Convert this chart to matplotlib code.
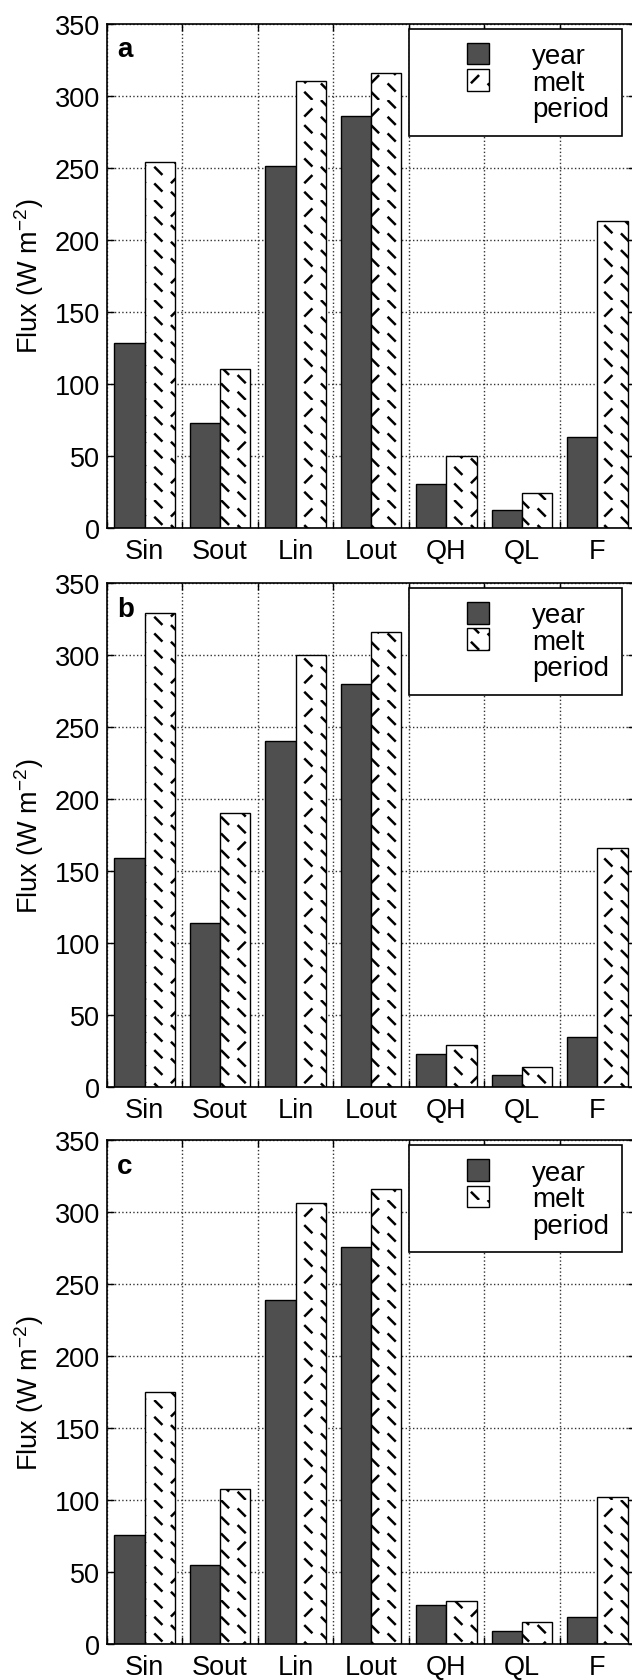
import warnings
import numpy as np
import matplotlib
matplotlib.use("Agg")
import matplotlib.pyplot as plt
from matplotlib import hatch as mhatch
from matplotlib.path import Path
from matplotlib.patches import Patch, Rectangle
from matplotlib.legend_handler import HandlerPatch

warnings.filterwarnings("ignore")

categories = ["Sin", "Sout", "Lin", "Lout", "QH", "QL", "F"]
panel_labels = ["a", "b", "c"]

year_a = [128, 73, 251, 286, 30, 12, 63]
melt_a = [254, 110, 310, 316, 50, 24, 213]
year_b = [159, 114, 240, 280, 23, 8, 35]
melt_b = [329, 190, 300, 316, 29, 14, 166]
year_c = [76, 55, 239, 276, 27, 9, 19]
melt_c = [175, 108, 306, 316, 30, 15, 102]

year_series = [year_a, year_b, year_c]
melt_series = [melt_a, melt_b, melt_c]
yticks = [0, 50, 100, 150, 200, 250, 300, 350]

YEAR_COLOR = "#4f4f4f"

plt.rcParams["font.family"] = ["Liberation Sans", "DejaVu Sans"]
plt.rcParams["mathtext.fontset"] = "custom"
plt.rcParams["mathtext.rm"] = "Liberation Sans"
plt.rcParams["hatch.linewidth"] = 1.8


# short diagonal dashes, mostly "\" with some "/" mixed in
class DashHatch(mhatch.HatchPatternBase):
    cell = [(0.25, 0.125, -1), (0.75, 0.375, -1), (0.25, 0.625, 1), (0.75, 0.875, -1)]
    half = 0.032

    def __init__(self, hatch, density):
        self.n = 3 if "k" in hatch else 0
        self.num_vertices = self.n * self.n * len(self.cell) * 2

    def set_vertices_and_codes(self, vertices, codes):
        size = 1.0 / self.n
        d = self.half
        k = 0
        for i in range(self.n):
            for j in range(self.n):
                for cx, cy, s in self.cell:
                    # flip every other "/" so the pattern is less regular
                    if s == 1 and (i + j) % 2:
                        s = -1
                    x = (i + cx) * size
                    y = (j + cy) * size
                    vertices[k] = (x - d, y - s * d)
                    vertices[k + 1] = (x + d, y + s * d)
                    codes[k] = Path.MOVETO
                    codes[k + 1] = Path.LINETO
                    k += 2


mhatch._hatch_types.append(DashHatch)


def square_right(legend, orig_handle, xdescent, ydescent, width, height, fontsize):
    side = height
    return Rectangle((-xdescent + width - side, -ydescent), side, side)


fig = plt.figure(figsize=(6.32, 16.81), dpi=100)
bottoms = [0.6855, 0.3528, 0.0214]
x = np.arange(len(categories))

for k in range(3):
    ax = fig.add_axes([0.169, bottoms[k], 0.836, 0.2998])
    ax.set_axisbelow(True)
    ax.bar(x + 0.3, year_series[k], width=0.4, color=YEAR_COLOR,
           edgecolor="black", linewidth=1.0)
    ax.bar(x + 0.7, melt_series[k], width=0.4, color="white",
           edgecolor="black", linewidth=1.0, hatch="k")

    ax.set_xlim(0, 7)
    ax.set_ylim(0, 350)
    ax.set_yticks(yticks)
    ax.set_xticks(np.arange(8))
    ax.set_xticklabels([])
    ax.set_xticks(x + 0.5, minor=True)
    ax.set_xticklabels(categories, minor=True)
    ax.tick_params(which="major", direction="in", length=5, width=1,
                   top=True, right=True, labelsize=19.5, pad=5)
    ax.tick_params(axis="x", which="minor", length=0, labelsize=19.5, pad=7.5)
    ax.grid(True, which="major", linestyle=":", color="#333333", linewidth=1.0)
    for sp in ax.spines.values():
        sp.set_linewidth(1.2)

    ax.set_ylabel("Flux (W m$^{-2}$)", fontsize=19.5, labelpad=6)
    ax.text(0.019, 0.935, panel_labels[k], transform=ax.transAxes,
            fontsize=20, fontweight="bold", va="baseline")

    handles = [Patch(facecolor=YEAR_COLOR, edgecolor="black", linewidth=1.0),
               Patch(facecolor="white", edgecolor="black", linewidth=1.0, hatch="k"),
               Patch(facecolor="none", edgecolor="none")]
    leg = ax.legend(handles, ["year", "melt", "period"], loc="upper left",
                    bbox_to_anchor=(0.572, 0.766, 0.403, 0.224), mode="expand",
                    fontsize=20, handlelength=2.37, handleheight=0.83,
                    handletextpad=1.55, labelspacing=0.0, borderpad=0.5,
                    borderaxespad=0.0, fancybox=False, framealpha=1,
                    edgecolor="black",
                    handler_map={Patch: HandlerPatch(patch_func=square_right)})
    leg.get_frame().set_linewidth(1.2)

fig.savefig("out.png", dpi=100)
